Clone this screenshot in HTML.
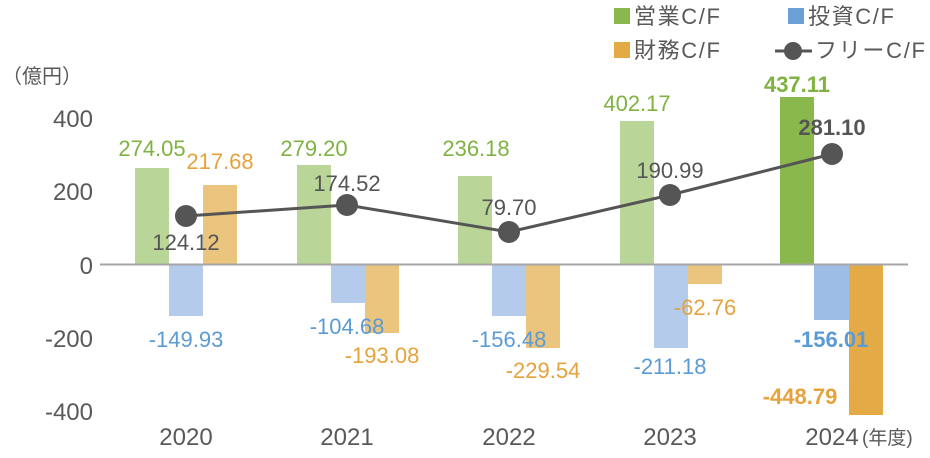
<!DOCTYPE html><html><head><meta charset="utf-8"><style>
body{margin:0;background:#fff}
text{font-family:"Liberation Sans","Noto Sans CJK JP",sans-serif}
</style></head><body>
<svg width="930" height="453" xmlns="http://www.w3.org/2000/svg" font-size="22">
<g font-size="22" fill="#595959">
<rect x="614" y="8" width="16" height="16" fill="#8ab84c"/><text x="634" y="24" textLength="86">営業C/F</text>
<rect x="788" y="8" width="16" height="16" fill="#6a9fd8"/><text x="808" y="24" textLength="86">投資C/F</text>
<rect x="614" y="42" width="16" height="16" fill="#e3aa45"/><text x="634" y="58" textLength="86">財務C/F</text>
<line x1="775" y1="51" x2="812" y2="51" stroke="#555" stroke-width="3"/><circle cx="793" cy="51" r="9" fill="#555"/><text x="815" y="58" textLength="110">フリーC/F</text>
<text x="2" y="83" font-size="20">（億円）</text>
<g text-anchor="end" font-size="24"><text x="93" y="127">400</text><text x="93" y="200">200</text><text x="93" y="274">0</text><text x="93" y="347">-200</text><text x="93" y="420">-400</text></g>
<g text-anchor="middle" font-size="24"><text x="186" y="445">2020</text><text x="347" y="445">2021</text><text x="509" y="445">2022</text><text x="670" y="445">2023</text><text x="832" y="445">2024</text></g>
<text x="862" y="444" font-size="19">(年度)</text>
</g>
<g>
<rect x="135" y="168" width="34" height="96" fill="#b9d598"/><rect x="169" y="265" width="34" height="51" fill="#b4cbec"/><rect x="203" y="185" width="34" height="79" fill="#ebc47e"/>
<rect x="297" y="165" width="34" height="99" fill="#b9d598"/><rect x="331" y="265" width="34" height="38" fill="#b4cbec"/><rect x="365" y="265" width="34" height="68" fill="#ebc47e"/>
<rect x="458" y="176" width="34" height="88" fill="#b9d598"/><rect x="492" y="265" width="34" height="51" fill="#b4cbec"/><rect x="526" y="265" width="34" height="83" fill="#ebc47e"/>
<rect x="620" y="121" width="34" height="143" fill="#b9d598"/><rect x="654" y="265" width="34" height="83" fill="#b4cbec"/><rect x="688" y="265" width="34" height="19" fill="#ebc47e"/>
<rect x="780" y="97" width="34" height="167" fill="#8ab84c"/><rect x="814" y="265" width="35" height="55" fill="#9dbde6"/><rect x="849" y="265" width="34" height="150" fill="#e3aa45"/>
</g>
<line x1="100" y1="264.5" x2="908" y2="264.5" stroke="#a6a6a6" stroke-width="2"/>
<polyline points="186,216 347,205 509,232 670,195 832,154" fill="none" stroke="#555" stroke-width="3"/>
<g fill="#555"><circle cx="186" cy="216" r="11"/><circle cx="347" cy="205" r="11"/><circle cx="509" cy="232" r="11"/><circle cx="670" cy="195" r="11"/><circle cx="832" cy="154" r="11"/></g>
<g text-anchor="middle">
<g fill="#7fb241"><text x="152" y="156">274.05</text><text x="314" y="156">279.20</text><text x="476" y="156">236.18</text><text x="637" y="111">402.17</text><text x="797" y="92" font-weight="bold">437.11</text></g>
<g fill="#e6a23c"><text x="220" y="169">217.68</text><text x="382" y="363">-193.08</text><text x="543" y="378">-229.54</text><text x="705" y="315">-62.76</text><text x="800" y="404" font-weight="bold">-448.79</text></g>
<g fill="#5b9bd5"><text x="186" y="347">-149.93</text><text x="347" y="334">-104.68</text><text x="509" y="347">-156.48</text><text x="670" y="374">-211.18</text><text x="831" y="347" font-weight="bold">-156.01</text></g>
<g fill="#555"><text x="186" y="250">124.12</text><text x="347" y="191">174.52</text><text x="509" y="215">79.70</text><text x="670" y="178">190.99</text><text x="832" y="135" font-weight="bold">281.10</text></g>
</g>
</svg>
</body></html>
